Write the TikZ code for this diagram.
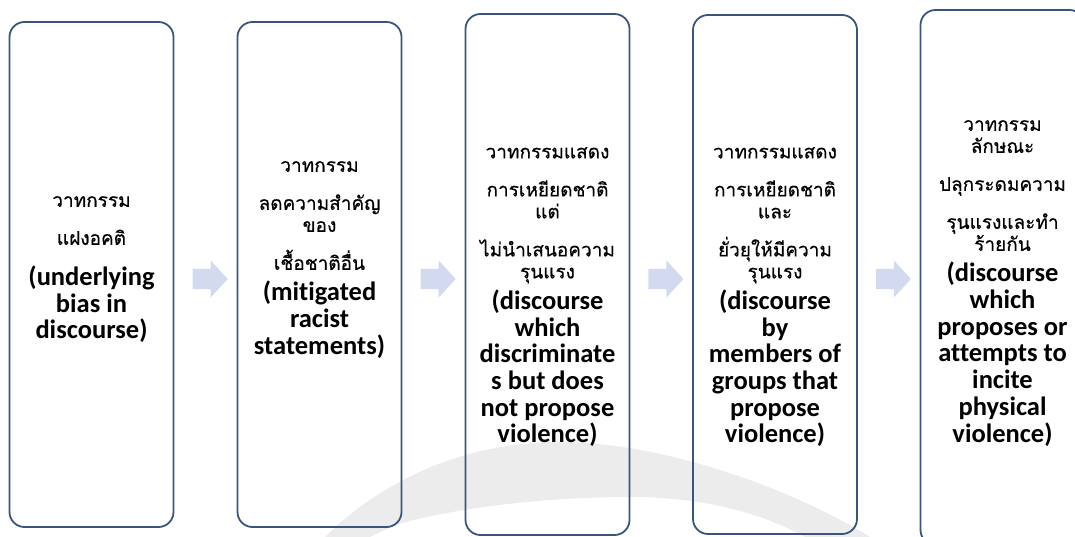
\documentclass[tikz,border=0pt]{standalone}
\usepackage{fontspec}
\setmainfont{Carlito}[Ligatures=NoCommon]
\newfontfamily\thaifont[Script=Thai,FakeBold=0.5]{Loma}
\usetikzlibrary{shapes.arrows}
\usetikzlibrary{calc}

\definecolor{boxline}{RGB}{58,84,126}
\definecolor{chevron}{RGB}{211,217,238}
\definecolor{faint}{RGB}{236,236,236}

\newcommand\thline[1]{{\thaifont\mdseries\fontsize{19}{22}\selectfont #1}}

\begin{document}
\begin{tikzpicture}
[x=1pt,y=1pt,%
  stage/.style={draw=boxline,line width=1.8pt,rounded corners=15pt,%
    minimum width=164pt,inner sep=0pt},%
  stagetext/.style={align=center,anchor=north,inner sep=0pt,%
    font=\bfseries\fontsize{26.5}{26.7}\selectfont},%
  go/.style={single arrow,fill=chevron,inner xsep=0pt,inner ysep=0pt,%
    text width=0pt,text height=10pt,text depth=10pt,%
    minimum height=35pt,single arrow head extend=8.5pt,%
    single arrow tip angle=95}]
\useasboundingbox (0,0) rectangle (1075,537);
\clip (0,0) rectangle (1075,537);

% faint swoosh in the background
\fill[faint] (325,0) .. controls (370,45) and (450,95) .. (560,95)
  .. controls (660,95) and (790,50) .. (870,0)
  -- (805,0) .. controls (760,25) and (700,40) .. (630,40)
  .. controls (540,40) and (450,28) .. (395,12) -- (370,0) -- cycle;

\node[stage,minimum height=505pt] (b1) at (91.5,262.5) {};
\node[stage,minimum height=505pt] (b2) at (319.5,262.5) {};
\node[stage,minimum height=521pt] (b3) at (547.5,262.5) {};
\node[stage,minimum height=519pt] (b4) at (775,262.5) {};
\node[stage,minimum height=535pt] (b5) at (1002.5,259.5) {};

\coordinate (mid) at (0,258);
\node[go] (a1) at ($(b1.east |- mid)!0.5!(b2.west |- mid)$) {};
\node[go] (a2) at ($(b2.east |- mid)!0.5!(b3.west |- mid)$) {};
\node[go] (a3) at ($(b3.east |- mid)!0.5!(b4.west |- mid)$) {};
\node[go] (a4) at ($(b4.east |- mid)!0.5!(b5.west |- mid)$) {};

\node[stagetext] (t1) at (b1.center |- 0,341) {%
  \thline{วาทกรรม}\\[11.3pt]
  \thline{แฝงอคติ}\\[14pt]
  (underlying\\ bias in\\ discourse)};
\node[stagetext] (t2) at (b2.center |- 0,376) {%
  \thline{วาทกรรม}\\[11.3pt]
  \thline{ลดความสำคัญ}\\[-4.7pt]
  \thline{ของ}\\[11.3pt]
  \thline{เชื้อชาติอื่น}\\[4.3pt]
  (mitigated\\ racist\\ statements)};
\node[stagetext] (t3) at (b3.center |- 0,390) {%
  \thline{วาทกรรมแสดง}\\[11.3pt]
  \thline{การเหยียดชาติ}\\[-4.7pt]
  \thline{แต่}\\[11.3pt]
  \thline{ไม่นำเสนอความ}\\[-4.7pt]
  \thline{รุนแรง}\\[4.3pt]
  (discourse\\ which\\ discriminate\\ s but does\\ not propose\\ violence)};
\node[stagetext] (t4) at (b4.center |- 0,390) {%
  \thline{วาทกรรมแสดง}\\[11.3pt]
  \thline{การเหยียดชาติ}\\[-4.7pt]
  \thline{และ}\\[11.3pt]
  \thline{ยั่วยุให้มีความ}\\[-4.7pt]
  \thline{รุนแรง}\\[4.3pt]
  (discourse\\ by\\ members of\\ groups that\\ propose\\ violence)};
\node[stagetext] (t5) at (b5.center |- 0,417) {%
  \thline{วาทกรรม}\\[-4.7pt]
  \thline{ลักษณะ}\\[11.3pt]
  \thline{ปลุกระดมความ}\\[11.3pt]
  \thline{รุนแรงและทำ}\\[-4.7pt]
  \thline{ร้ายกัน}\\[4.3pt]
  (discourse\\ which\\ proposes or\\ attempts to\\ incite\\ physical\\ violence)};
\end{tikzpicture}
\end{document}
